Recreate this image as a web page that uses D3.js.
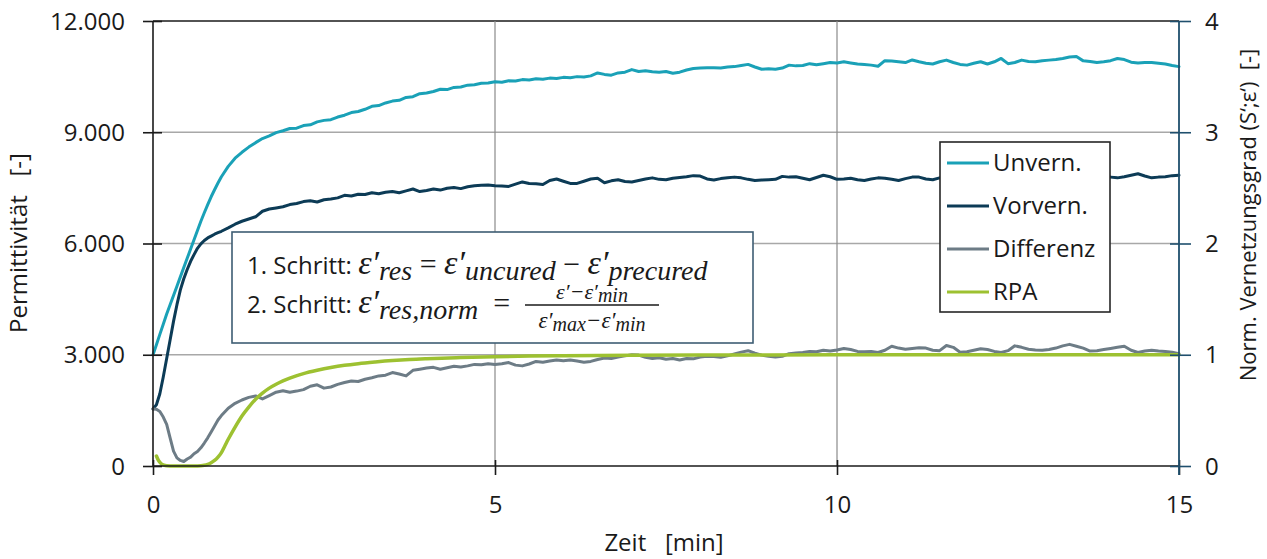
<!DOCTYPE html>
<html>
<head>
<meta charset="utf-8">
<script src="https://cdn.jsdelivr.net/npm/d3@7"></script>
<style>
  html, body { margin: 0; padding: 0; background: #fff; }
  svg { display: block; font-family: "Open Sans", "Noto Sans", sans-serif; }
</style>
</head>
<body>
<svg id="chart" width="1267" height="559"></svg>
<script>
// ---- Sampling grid [min]: 0.05 steps up to 1 min, 0.1 steps afterwards ----
const timeEarly = [0, 0.05, 0.1, 0.15, 0.2, 0.25, 0.3, 0.35, 0.4, 0.45, 0.5,
                   0.55, 0.6, 0.65, 0.7, 0.75, 0.8, 0.85, 0.9, 0.95, 1.0];
const timeLate = [
  1.1, 1.2, 1.3, 1.4, 1.5, 1.6, 1.7, 1.8, 1.9, 2.0,
  2.1, 2.2, 2.3, 2.4, 2.5, 2.6, 2.7, 2.8, 2.9, 3.0,
  3.1, 3.2, 3.3, 3.4, 3.5, 3.6, 3.7, 3.8, 3.9, 4.0,
  4.1, 4.2, 4.3, 4.4, 4.5, 4.6, 4.7, 4.8, 4.9, 5.0,
  5.1, 5.2, 5.3, 5.4, 5.5, 5.6, 5.7, 5.8, 5.9, 6.0,
  6.1, 6.2, 6.3, 6.4, 6.5, 6.6, 6.7, 6.8, 6.9, 7.0,
  7.1, 7.2, 7.3, 7.4, 7.5, 7.6, 7.7, 7.8, 7.9, 8.0,
  8.1, 8.2, 8.3, 8.4, 8.5, 8.6, 8.7, 8.8, 8.9, 9.0,
  9.1, 9.2, 9.3, 9.4, 9.5, 9.6, 9.7, 9.8, 9.9, 10.0,
  10.1, 10.2, 10.3, 10.4, 10.5, 10.6, 10.7, 10.8, 10.9, 11.0,
  11.1, 11.2, 11.3, 11.4, 11.5, 11.6, 11.7, 11.8, 11.9, 12.0,
  12.1, 12.2, 12.3, 12.4, 12.5, 12.6, 12.7, 12.8, 12.9, 13.0,
  13.1, 13.2, 13.3, 13.4, 13.5, 13.6, 13.7, 13.8, 13.9, 14.0,
  14.1, 14.2, 14.3, 14.4, 14.5, 14.6, 14.7, 14.8, 14.9, 15.0];
const timeGrid = timeEarly.concat(timeLate);

// ---- Permittivity, uncured sample ----
const unvern = [
  3000, 3270, 3550, 3820, 4100, 4350, 4600, 4850, 5100, 5350, 5600,
  5850, 6100, 6350, 6600, 6830, 7050, 7260, 7450, 7630, 7800,
  8080, 8300, 8460, 8600, 8720, 8830, 8900, 8990, 9040, 9100,
  9110, 9180, 9200, 9280, 9320, 9340, 9410, 9460, 9530, 9560,
  9620, 9700, 9720, 9790, 9840, 9860, 9940, 9960, 10040, 10060,
  10100, 10160, 10150, 10210, 10220, 10270, 10280, 10320, 10330, 10360,
  10350, 10390, 10380, 10420, 10410, 10440, 10430, 10460, 10450, 10480,
  10470, 10500, 10490, 10520, 10600, 10560, 10540, 10600, 10620, 10690,
  10640, 10660, 10630, 10620, 10640, 10590, 10620, 10680, 10720, 10730,
  10740, 10740, 10730, 10760, 10770, 10800, 10830, 10760, 10700, 10710,
  10700, 10730, 10810, 10790, 10800, 10850, 10820, 10850, 10880, 10870,
  10900, 10870, 10840, 10830, 10810, 10780, 10930, 10920, 10900, 10880,
  10950, 10900, 10860, 10840, 10900, 10945, 10880, 10830, 10810, 10860,
  10900, 10840, 10900, 10990, 10850, 10880, 10945, 10910, 10900, 10930,
  10945, 10960, 10990, 11030, 11040, 10925, 10910, 10880, 10900, 10930,
  10990, 10960, 10890, 10870, 10880, 10880, 10860, 10840, 10800, 10770];

// ---- Permittivity, precured sample ----
const vorvern = [
  1540, 1650, 1950, 2400, 2900, 3400, 3900, 4350, 4750, 5050, 5300,
  5520, 5700, 5870, 5990, 6080, 6150, 6200, 6250, 6290, 6330,
  6420, 6520, 6600, 6660, 6720, 6870, 6930, 6960, 6990, 7050,
  7080, 7130, 7150, 7120, 7180, 7200, 7230, 7300, 7280, 7330,
  7320, 7370, 7340, 7380, 7400, 7370, 7420, 7470, 7400, 7430,
  7470, 7440, 7490, 7510, 7480, 7530, 7560, 7570, 7580, 7560,
  7550, 7540, 7600, 7660, 7620, 7610, 7590, 7700, 7740, 7680,
  7620, 7620, 7680, 7740, 7760, 7640, 7690, 7720, 7670, 7660,
  7700, 7740, 7770, 7730, 7720, 7760, 7780, 7800, 7830, 7820,
  7740, 7710, 7750, 7770, 7790, 7770, 7730, 7700, 7710, 7720,
  7730, 7810, 7790, 7800, 7760, 7720, 7780, 7840, 7800, 7730,
  7740, 7760, 7720, 7700, 7740, 7770, 7760, 7730, 7700, 7750,
  7790, 7790, 7740, 7720, 7770, 7780, 7750, 7760, 7790, 7760,
  7780, 7750, 7800, 7770, 7760, 7790, 7800, 7770, 7810, 7790,
  7760, 7800, 7820, 7790, 7770, 7800, 7810, 7780, 7790, 7790,
  7770, 7800, 7840, 7880, 7820, 7770, 7790, 7800, 7830, 7840];

// ---- Difference signal ----
const differenz = [
  1540, 1530, 1470, 1320, 1120, 760, 400, 220, 150, 120, 190,
  240, 330, 390, 490, 620, 760, 920, 1080, 1240, 1360,
  1560, 1690, 1780, 1850, 1890, 1810, 1900, 1990, 2030, 1990,
  2020, 2060, 2150, 2190, 2100, 2130, 2200, 2250, 2290, 2280,
  2340, 2380, 2430, 2450, 2520, 2480, 2430, 2580, 2610, 2640,
  2660, 2610, 2650, 2690, 2670, 2700, 2740, 2730, 2760, 2740,
  2760, 2790, 2720, 2700, 2750, 2820, 2800, 2830, 2860, 2840,
  2860, 2830, 2800, 2820, 2870, 2910, 2900, 2940, 2970, 3000,
  2990, 2930, 2900, 2920, 2880, 2900, 2860, 2900, 2890, 2940,
  2960, 2950, 2930, 2970, 3020, 3070, 3110, 3040, 2990, 2960,
  2940, 2960, 3030, 3050, 3060, 3090, 3080, 3120, 3100, 3130,
  3170, 3140, 3090, 3080, 3090, 3060, 3120, 3230, 3180, 3150,
  3170, 3190, 3180, 3120, 3110, 3250, 3200, 3070, 3080, 3120,
  3160, 3140, 3090, 3060, 3110, 3240, 3200, 3150, 3130, 3120,
  3140, 3180, 3240, 3280, 3230, 3180, 3100, 3110, 3140, 3170,
  3200, 3230, 3120, 3060, 3100, 3120, 3100, 3090, 3070, 3030];

// ---- RPA cure degree (right axis) ----
const rpaTime = [0.05, 0.08, 0.12, 0.16, 0.2, 0.3, 0.4, 0.5, 0.6, 0.7,
                 0.75, 0.8, 0.85, 0.9, 0.95, 1.0, 1.05, 1.1, 1.2, 1.3,
                 1.4, 1.5, 1.6, 1.7, 1.8, 1.9, 2.0, 2.2, 2.4, 2.6,
                 2.8, 3.0, 3.25, 3.5, 3.75, 4.0, 4.5, 5.0, 5.5, 6.0,
                 7.0, 8.0, 9.0, 10, 11, 12, 13, 14, 15];
const rpa = [0.09, 0.05, 0.02, 0.007, 0.002, 0, 0, 0, 0, 0.002,
             0.006, 0.015, 0.03, 0.05, 0.08, 0.12, 0.18, 0.24, 0.35, 0.45,
             0.53, 0.60, 0.655, 0.70, 0.735, 0.765, 0.79, 0.83, 0.86, 0.885,
             0.905, 0.92, 0.935, 0.948, 0.958, 0.965, 0.975, 0.983, 0.988, 0.991,
             0.995, 0.997, 0.998, 0.999, 1, 1, 1, 1, 1];

// ---- Axis ticks and labels ----
const xTicks = [0, 5, 10, 15];
const yLeftTicks = [0, 3000, 6000, 9000, 12000];
const yRightTicks = [0, 1, 2, 3, 4];
const seriesNames = ["Unvern.", "Vorvern.", "Differenz", "RPA"];
const seriesColors = ["#1aa1b7", "#0c3b56", "#6d7c86", "#9dc131"];
const xTitle = "Zeit   [min]";
const yLeftTitle = "Permittivität   [-]";
const yRightTitle = "Norm. Vernetzungsgrad (S‘;ε‘)  [-]";

// ---- Layout ----
const svg = d3.select("#chart");
const plot = { left: 153, right: 1179, top: 21, bottom: 466 };
const x = d3.scaleLinear().domain([0, 15]).range([plot.left, plot.right]);
const yL = d3.scaleLinear().domain([0, 12000]).range([plot.bottom, plot.top]);
const yR = d3.scaleLinear().domain([0, 4]).range([plot.bottom, plot.top]);
const de = d3.formatLocale({ decimal: ",", thousands: ".", grouping: [3], currency: ["", " €"] });
const fmtThousands = de.format(",.0f");
const textColor = "#1a1a1a";
const fontSize = 24;

// Horizontal gridlines
svg.append("g").selectAll("line")
  .data(yLeftTicks.filter(v => v > 0 && v < 12000))
  .join("line")
  .attr("x1", plot.left).attr("x2", plot.right)
  .attr("y1", d => yL(d)).attr("y2", d => yL(d))
  .attr("stroke", "#a8a8a8").attr("stroke-width", 1.3);
// Top border at the maximum
svg.append("line")
  .attr("x1", plot.left).attr("x2", plot.right)
  .attr("y1", yL(12000)).attr("y2", yL(12000))
  .attr("stroke", "#1a1a1a").attr("stroke-width", 1.6);
// Vertical gridlines
svg.append("g").selectAll("line")
  .data(xTicks.filter(v => v > 0 && v < 15))
  .join("line")
  .attr("x1", d => x(d)).attr("x2", d => x(d))
  .attr("y1", plot.top).attr("y2", plot.bottom)
  .attr("stroke", "#8a8a8a").attr("stroke-width", 1.2);

// ---- Curves ----
const lineL = d3.line().x(d => x(d[0])).y(d => yL(d[1]));
const lineR = d3.line().x(d => x(d[0])).y(d => yR(d[1])).curve(d3.curveMonotoneX);
const curves = svg.append("g").attr("fill", "none")
  .attr("stroke-linejoin", "round").attr("stroke-linecap", "round");
[unvern, vorvern, differenz].forEach((vals, i) => {
  curves.append("path")
    .attr("d", lineL(d3.zip(timeGrid, vals)))
    .attr("stroke", seriesColors[i]).attr("stroke-width", 3);
});
curves.append("path")
  .attr("d", lineR(d3.zip(rpaTime, rpa)))
  .attr("stroke", seriesColors[3]).attr("stroke-width", 3.5);

// ---- Axes ----
// Left axis (crossing ticks)
const gL = svg.append("g").attr("transform", `translate(${plot.left},0)`)
  .call(d3.axisLeft(yL).tickValues(yLeftTicks).tickFormat(fmtThousands).tickSize(10));
gL.select(".domain").remove();
gL.selectAll(".tick line").attr("x1", 9).attr("x2", -10).attr("stroke", "#1a1a1a").attr("stroke-width", 1.6);
gL.selectAll(".tick text").attr("x", -28).attr("dy", "0.34em")
  .attr("font-size", fontSize).attr("font-family", "Open Sans").attr("fill", textColor);
svg.append("line").attr("x1", plot.left).attr("x2", plot.left)
  .attr("y1", plot.top).attr("y2", plot.bottom)
  .attr("stroke", "#1a1a1a").attr("stroke-width", 1.6);

// Bottom axis
const gB = svg.append("g").attr("transform", `translate(0,${plot.bottom})`)
  .call(d3.axisBottom(x).tickValues(xTicks).tickFormat(d3.format("d")).tickSize(9));
gB.select(".domain").remove();
gB.selectAll(".tick line").attr("y1", -6).attr("y2", 9).attr("stroke", "#1a1a1a").attr("stroke-width", 1.6);
gB.selectAll(".tick text").attr("y", 47).attr("dy", 0)
  .attr("font-size", fontSize).attr("font-family", "Open Sans").attr("fill", textColor);
svg.append("line").attr("x1", plot.left).attr("x2", plot.right)
  .attr("y1", plot.bottom).attr("y2", plot.bottom)
  .attr("stroke", "#1a1a1a").attr("stroke-width", 1.6);

// Right axis
const axisBlue = "#1f4f6d";
const gR = svg.append("g").attr("transform", `translate(${plot.right},0)`)
  .call(d3.axisRight(yR).tickValues(yRightTicks).tickFormat(d3.format("d")).tickSize(12));
gR.select(".domain").remove();
gR.selectAll(".tick line").attr("x1", -9).attr("x2", 12).attr("stroke", axisBlue).attr("stroke-width", 1.6);
gR.selectAll(".tick text").attr("x", 26).attr("dy", "0.34em")
  .attr("font-size", fontSize).attr("font-family", "Open Sans").attr("fill", textColor);
svg.append("line").attr("x1", plot.right).attr("x2", plot.right)
  .attr("y1", plot.top).attr("y2", plot.bottom + 9)
  .attr("stroke", axisBlue).attr("stroke-width", 1.8);

// Axis titles
svg.append("text").attr("x", 664).attr("y", 551).attr("text-anchor", "middle")
  .style("white-space", "pre").attr("font-size", fontSize).attr("fill", textColor).text(xTitle);
svg.append("text").attr("transform", "translate(27,243) rotate(-90)").attr("text-anchor", "middle")
  .style("white-space", "pre").attr("font-size", fontSize).attr("fill", textColor).text(yLeftTitle);
svg.append("text").attr("transform", "translate(1256,215) rotate(-90)").attr("text-anchor", "middle")
  .style("white-space", "pre").attr("font-size", 22).attr("fill", textColor).text(yRightTitle);

// ---- Legend ----
const legend = svg.append("g");
legend.append("rect").attr("x", 940).attr("y", 142).attr("width", 170).attr("height", 170)
  .attr("fill", "#fff").attr("stroke", "#262626").attr("stroke-width", 1.6);
seriesNames.forEach((name, i) => {
  const ly = 163 + i * 43;
  legend.append("line").attr("x1", 947).attr("x2", 989).attr("y1", ly).attr("y2", ly)
    .attr("stroke", seriesColors[i]).attr("stroke-width", 3);
  legend.append("text").attr("x", 993).attr("y", ly).attr("dy", "0.35em")
    .attr("font-size", fontSize).attr("fill", textColor).text(name);
});

// ---- Formula box ----
const box = svg.append("g");
box.append("rect").attr("x", 232).attr("y", 232).attr("width", 521).attr("height", 111)
  .attr("fill", "#fff").attr("stroke", "#3e5d73").attr("stroke-width", 1.6);

const mathFont = "'Liberation Serif', 'DejaVu Serif', serif";
const sans = "'Open Sans', sans-serif";
// a flowing run of formula parts: [text, size, italic, baseline shift, family]
function mathRun(px, py, parts, anchor) {
  const t = box.append("text").attr("x", px).attr("y", py)
    .attr("fill", textColor).attr("font-family", mathFont)
    .attr("text-anchor", anchor || "start").style("white-space", "pre");
  let prev = 0;
  parts.forEach(([str, size, italic, shift, family]) => {
    const s = t.append("tspan").text(str).attr("font-size", size)
      .attr("font-style", italic ? "italic" : "normal")
      .attr("dy", shift - prev);
    if (family) s.attr("font-family", family);
    prev = shift;
  });
  return t;
}
// 1. Schritt: ε'res = ε'uncured − ε'precured
mathRun(247, 274, [
  ["1. Schritt: ", 24, false, 0, sans],
  ["ε′", 34, true, 0], ["res", 28, true, 6],
  [" = ", 30, false, 0],
  ["ε′", 34, true, 0], ["uncured", 28, true, 6],
  [" − ", 30, false, 0],
  ["ε′", 34, true, 0], ["precured", 28, true, 6]
]);
// 2. Schritt: ε'res,norm = (ε' − ε'min) / (ε'max − ε'min)
mathRun(247, 313, [
  ["2. Schritt: ", 24, false, 0, sans],
  ["ε′", 34, true, 0], ["res,norm", 28, true, 6],
  ["  =", 30, false, 0]
]);
mathRun(592, 299, [
  ["ε′−ε′", 22, true, 0], ["min", 20, true, 3]
], "middle");
box.append("line").attr("x1", 525).attr("x2", 659).attr("y1", 305).attr("y2", 305)
  .attr("stroke", textColor).attr("stroke-width", 1.4);
mathRun(592, 328, [
  ["ε′", 23, true, 0], ["max", 20, true, 3], ["−ε′", 23, true, 0], ["min", 20, true, 3]
], "middle");
</script>
</body>
</html>
